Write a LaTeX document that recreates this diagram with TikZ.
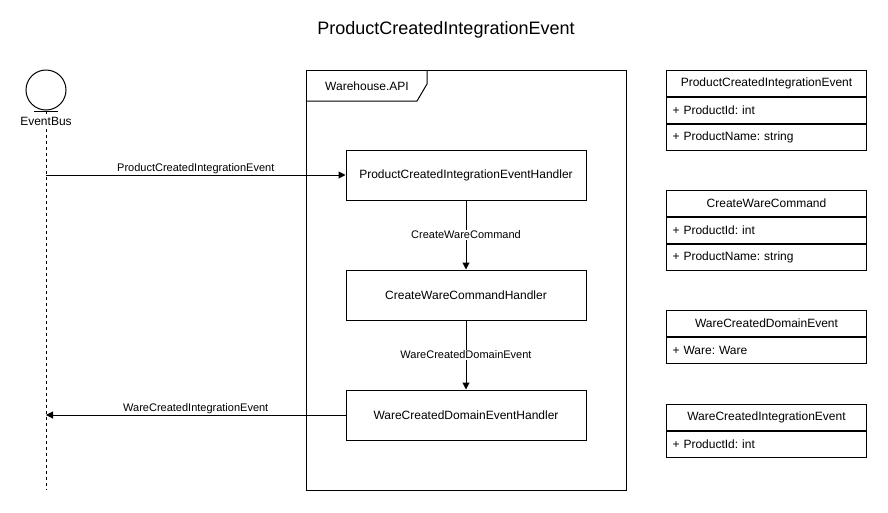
\documentclass[tikz,border=0pt]{standalone}
\usepackage{fontspec}
\setmainfont{Liberation Sans}
\usetikzlibrary{arrows.meta,positioning}
\frenchspacing

\begin{document}
\begin{tikzpicture}[
    x=1pt, y=-1pt,
    frame/.style={draw, line width=1pt},
    handler/.style={draw, line width=1pt, minimum width=240pt, minimum height=50pt,
      inner sep=0pt, font=\fontsize{12}{14}\selectfont},
    msg/.style={-{Triangle[length=7pt,width=7pt]}, line width=1pt},
    msglbl/.style={font=\fontsize{11}{13}\selectfont, inner sep=1pt},
    clshead/.style={draw, line width=1pt, minimum width=200pt, minimum height=26pt,
      inner sep=0pt, font=\fontsize{12}{14}\selectfont, anchor=north west},
    clsrow/.style={clshead, inner xsep=6pt, text width=188pt, align=left},
  ]
  \useasboundingbox (0,0) rectangle (888,512);

  % ---- title
  \node[font=\fontsize{18}{21}\selectfont] (title) at (446,30) {ProductCreatedIntegrationEvent};

  % ---- event bus lifeline
  \node[circle, draw, line width=1pt, minimum size=40pt, inner sep=0pt] (bus) at (46,90) {};
  \draw[line width=1pt] (34,111) -- (58,111);
  \coordinate (busend) at (46,490);
  \draw[dashed, dash pattern=on 3pt off 3pt, line width=1pt] (bus.south) -- (busend);
  \node[fill=white, font=\fontsize{12}{14}\selectfont, inner sep=1pt] (buslbl) at (46,121) {EventBus};

  % ---- Warehouse.API frame with its tab
  \node[frame, minimum width=320pt, minimum height=420pt, anchor=north west] (api) at (306,70) {};
  \draw[line width=1pt] (api.north west) ++(0,31) -- ++(111,0) -- ++(10,-17) -- ++(0,-14);
  \node[font=\fontsize{12}{14}\selectfont] (apilbl) at (367,86) {Warehouse.API};

  % ---- handlers
  \node[handler] (pcieh) at (466,175) {ProductCreatedIntegrationEventHandler};
  \node[handler] (cwch) at (466,295) {CreateWareCommandHandler};
  \node[handler] (wcdeh) at (466,415) {WareCreatedDomainEventHandler};

  % ---- messages
  \draw[msg] (pcieh.west -| bus.center) -- (pcieh.west)
    node[msglbl, midway, above=0pt] (pcielbl) {ProductCreatedIntegrationEvent};
  \draw[msg] (pcieh) -- (cwch)
    node[msglbl, midway, fill=white] (cwclbl) {CreateWareCommand};
  \draw[msg] (cwch) -- (wcdeh)
    node[msglbl, midway, fill=white] (wcdelbl) {WareCreatedDomainEvent};
  \draw[msg] (wcdeh.west) -- (wcdeh.west -| bus.center)
    node[msglbl, midway, above=0pt] (wcielbl) {WareCreatedIntegrationEvent};

  % ---- class boxes
  \node[clshead] (pcie) at (666,70) {ProductCreatedIntegrationEvent};
  \node[clsrow, below=0pt of pcie] (pcieid) {+ ProductId: int};
  \node[clsrow, below=0pt of pcieid] (pciename) {+ ProductName: string};

  \node[clshead] (cwc) at (666,190) {CreateWareCommand};
  \node[clsrow, below=0pt of cwc] (cwcid) {+ ProductId: int};
  \node[clsrow, below=0pt of cwcid] (cwcname) {+ ProductName: string};

  \node[clshead] (wcde) at (666,310) {WareCreatedDomainEvent};
  \node[clsrow, below=0pt of wcde] (wcdeware) {+ Ware: Ware};

  \node[clshead] (wcie) at (666,404) {WareCreatedIntegrationEvent};
  \node[clsrow, below=0pt of wcie] (wcieid) {+ ProductId: int};
\end{tikzpicture}
\end{document}
